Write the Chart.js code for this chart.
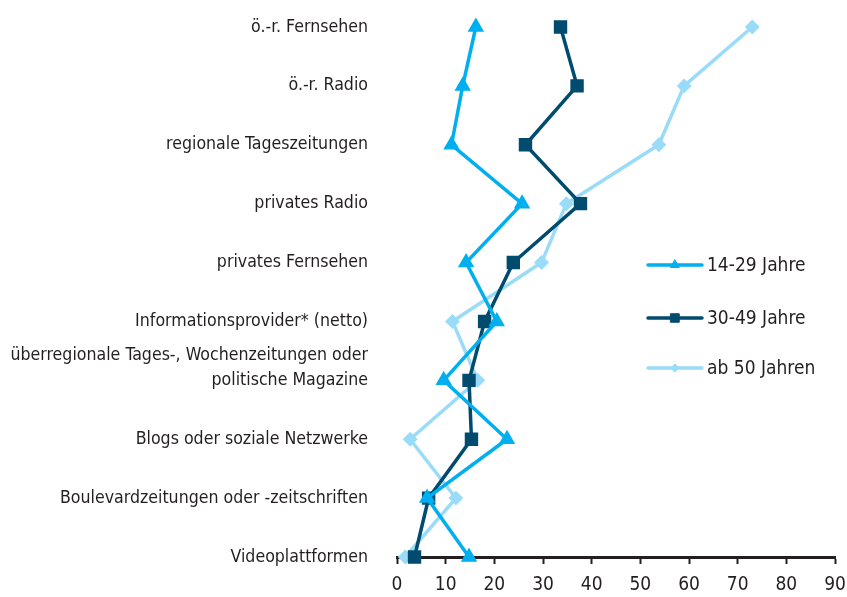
<!DOCTYPE html>
<html>
<head>
<meta charset="utf-8">
<script src="https://cdn.jsdelivr.net/npm/chart.js@4/dist/chart.umd.min.js"></script>
<style>
  html, body { margin: 0; padding: 0; background: #fff; }
  #wrap { width: 847px; height: 597px; }
</style>
</head>
<body>
<div id="wrap"><canvas id="mediaChart" width="847" height="597"></canvas></div>
<script>
const FONT = '"Liberation Sans Narrow", "DejaVu Sans Condensed", "Liberation Sans", sans-serif';
const TEXT = '#231f20';

// Mediengattungen (top to bottom); the two-line label sits with its last line on the tick
const categories = [
    'ö.-r. Fernsehen',
    'ö.-r. Radio',
    'regionale Tageszeitungen',
    'privates Radio',
    'privates Fernsehen',
    'Informationsprovider* (netto)',
    ['überregionale Tages-, Wochenzeitungen oder', 'politische Magazine', ''],
    'Blogs oder soziale Netzwerke',
    'Boulevardzeitungen oder -zeitschriften',
    'Videoplattformen'
];

// values per age group, in percent
const jahre14bis29 = [16.2, 13.5, 11.2, 25.7, 14.2, 20.5, 9.6, 22.6, 6.2, 14.8];
const jahre30bis49 = [33.6, 37.0, 26.4, 37.7, 23.9, 18.0, 14.8, 15.3, 6.5, 3.6];
const ab50Jahren   = [73.0, 59.0, 53.8, 34.8, 29.7, 11.4, 16.6, 2.7, 12.1, 1.7];

const xMin = 0, xMax = 90, xStep = 10;

// legend drawn inside the plot, right side
const sideLegend = {
    id: 'sideLegend',
    afterDatasetsDraw(chart) {
        const ctx = chart.ctx;
        const x0 = 648, x1 = 702, rows = [265, 318, 368];
        chart.data.datasets.forEach((ds, i) => {
            const y = rows[i];
            ctx.save();
            ctx.strokeStyle = ds.borderColor;
            ctx.fillStyle = ds.backgroundColor;
            ctx.lineWidth = ds.borderWidth;
            ctx.lineCap = 'round';
            ctx.beginPath();
            ctx.moveTo(x0, y);
            ctx.lineTo(x1, y);
            ctx.stroke();
            ctx.lineWidth = 1;
            Chart.helpers.drawPoint(ctx, {
                pointStyle: ds.pointStyle,
                radius: ds.pointRadius - 1,
                borderWidth: 1,
                rotation: 0
            }, (x0 + x1) / 2, y);
            ctx.fillStyle = TEXT;
            ctx.font = '19px ' + FONT;
            ctx.textBaseline = 'middle';
            ctx.fillText(ds.label, x1 + 5, y + 1);
            ctx.restore();
        });
    }
};

const ctx = document.getElementById('mediaChart').getContext('2d');
new Chart(ctx, {
    type: 'line',
    data: {
        labels: categories,
        datasets: [{
            label: '14-29 Jahre',
            data: jahre14bis29,
            borderColor: '#00aff0',
            backgroundColor: '#00aff0',
            pointStyle: 'triangle',
            pointRadius: 6,
            borderWidth: 3.5
        }, {
            label: '30-49 Jahre',
            data: jahre30bis49,
            borderColor: '#004b6e',
            backgroundColor: '#004b6e',
            pointStyle: 'rect',
            pointRadius: 7,
            borderWidth: 3.5
        }, {
            label: 'ab 50 Jahren',
            data: ab50Jahren,
            borderColor: '#9adcf7',
            backgroundColor: '#9adcf7',
            pointStyle: 'rectRot',
            pointRadius: 5,
            borderWidth: 3.5
        }]
    },
    options: {
        responsive: false,
        animation: false,
        indexAxis: 'y',
        clip: false,
        layout: { padding: { top: 27, right: 12, left: 0, bottom: 0 } },
        elements: {
            line: { tension: 0 },
            point: { borderWidth: 1, hoverRadius: 6 }
        },
        scales: {
            x: {
                type: 'linear',
                min: xMin,
                max: xMax,
                afterFit(scale) {
                    scale.height = 40;
                    scale.paddingLeft = 0;
                    scale.paddingRight = 0;
                },
                ticks: {
                    stepSize: xStep,
                    color: TEXT,
                    font: { family: FONT, size: 19 },
                    padding: 10
                },
                grid: {
                    drawOnChartArea: false,
                    color: TEXT,
                    tickLength: 7,
                    tickWidth: 2
                },
                border: { color: TEXT, width: 3 }
            },
            y: {
                type: 'category',
                offset: false,
                afterFit(scale) {
                    scale.width = 397;
                    scale.paddingTop = 0;
                    scale.paddingBottom = 0;
                },
                ticks: {
                    color: TEXT,
                    font: { family: FONT, size: 17.6, lineHeight: 1.4 },
                    padding: 29,
                    autoSkip: false
                },
                grid: { display: false, drawTicks: false },
                border: { display: false }
            }
        },
        plugins: {
            legend: { display: false },
            tooltip: { enabled: false }
        }
    },
    plugins: [sideLegend]
});
</script>
</body>
</html>
